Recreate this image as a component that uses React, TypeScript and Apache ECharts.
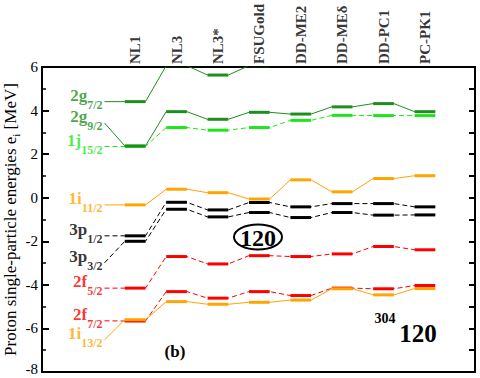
import React, { useEffect, useRef } from 'react';
import * as echarts from 'echarts';

const models = ['NL1', 'NL3', 'NL3*', 'FSUGold', 'DD-ME2', 'DD-MEδ', 'DD-PC1', 'PC-PK1'];
const lvMain = ['2g', '2g', '1j', '1i', '3p', '3p', '2f', '2f', '1i'];
const lvSub = ['7/2', '9/2', '15/2', '11/2', '1/2', '3/2', '5/2', '7/2', '13/2'];
const e2g72 = [4.41, 6.06, 5.63, 6.06, 6.4, 6.4, 6.4, 6.4];
const e2g92 = [2.38, 3.95, 3.6, 3.92, 3.84, 4.17, 4.32, 3.95];
const e1j152 = [2.35, 3.22, 3.1, 3.22, 3.55, 3.78, 3.77, 3.77];
const e1i112 = [-0.33, 0.39, 0.23, -0.06, 0.82, 0.27, 0.88, 1.01];
const e3p12 = [-1.75, -0.21, -0.56, -0.22, -0.42, -0.27, -0.27, -0.42];
const e3p32 = [-2.0, -0.53, -0.88, -0.68, -0.91, -0.68, -0.8, -0.79];
const e2f52 = [-4.15, -2.7, -3.04, -2.66, -2.7, -2.58, -2.24, -2.39];
const e2f72 = [-5.66, -4.31, -4.61, -4.31, -4.49, -4.15, -4.18, -4.03];
const e1i132 = [-5.6, -4.77, -4.89, -4.8, -4.7, -4.18, -4.46, -4.17];
const labelEnergies = [4.41, 3.43, 2.35, -0.33, -1.75, -2.99, -4.15, -5.65, -6.52];
const yTicks = [-8, -6, -4, -2, 0, 2, 4, 6];

const levels = [e2g72, e2g92, e1j152, e1i112, e3p12, e3p32, e2f52, e2f72, e1i132];
const drawOrder = [0, 2, 1, 3, 4, 5, 6, 7, 8];

const DG = '#1e8f1e';
const BG = '#1ee61e';
const OR = '#ffa500';
const RD = '#ff0000';
const BK = '#000000';
const levelColors = [DG, DG, BG, OR, BK, BK, RD, RD, OR];
const levelDashed = [false, false, true, false, true, true, true, true, false];

const SERIF = "'Liberation Serif', 'DejaVu Serif', serif";
const barHalf = 0.25;
const labelX = -0.74;

export default function App() {
  const ref = useRef<HTMLDivElement>(null);
  useEffect(() => {
    if (!ref.current) return;
    const chart = echarts.init(ref.current, null, { renderer: 'svg' });

    const connSeries: any[] = drawOrder.map((li) => {
      const vals = levels[li];
      const data: number[][] = [[labelX, labelEnergies[li]]];
      vals.forEach((v, i) => {
        data.push([i - barHalf, v]);
        data.push([i + barHalf, v]);
      });
      return {
        type: 'line',
        data,
        symbol: 'none',
        clip: true,
        silent: true,
        lineStyle: {
          color: levelColors[li],
          width: 1,
          type: levelDashed[li] ? [5, 3] : 'solid',
        },
        z: 2,
      };
    });

    const barData: number[][] = [];
    drawOrder.forEach((li) => {
      levels[li].forEach((v, i) => barData.push([i, v, li]));
    });

    const richLabel: any = {};
    levelColors.forEach((c, i) => {
      richLabel['m' + i] = {
        fontFamily: SERIF, fontWeight: 'bold', fontSize: 17, color: c,
        lineHeight: 17, verticalAlign: 'top',
      };
      richLabel['s' + i] = {
        fontFamily: SERIF, fontWeight: 'bold', fontSize: 12, color: c,
        lineHeight: 24, verticalAlign: 'bottom',
      };
    });

    const option: any = {
      animation: false,
      grid: { left: 42, right: 5, top: 67, bottom: 6, containLabel: false, outerBoundsMode: 'none' },
      xAxis: [
        {
          type: 'value', min: -2.25, max: 8.21, position: 'bottom',
          axisLine: { show: true, onZero: false, lineStyle: { color: BK, width: 2 } },
          axisTick: { show: false }, axisLabel: { show: false }, splitLine: { show: false },
        },
        {
          type: 'value', min: -2.25, max: 8.21, position: 'top',
          axisLine: { show: true, onZero: false, lineStyle: { color: BK, width: 2 } },
          axisTick: { show: false }, axisLabel: { show: false }, splitLine: { show: false },
        },
      ],
      yAxis: [
        {
          type: 'value', min: yTicks[0], max: yTicks[yTicks.length - 1], interval: 2,
          position: 'left',
          axisLine: { show: true, onZero: false, lineStyle: { color: BK, width: 2 } },
          axisTick: { show: true, inside: true, length: 7, lineStyle: { color: BK, width: 2 } },
          minorTick: { show: true, splitNumber: 2, length: 4, lineStyle: { color: BK, width: 1.5 } },
          axisLabel: {
            color: BK, fontFamily: SERIF, fontSize: 15, margin: 4,
            formatter: (v: number) => (v === yTicks[0] ? `{lo|${v}}` : `${v}`),
            rich: {
              lo: { fontFamily: SERIF, fontSize: 15, color: BK, padding: [0, 0, 6, 0] },
            },
          },
          splitLine: { show: false },
          name: '{a|Proton single-particle energies e}{s|i}{a| [MeV]}',
          nameLocation: 'middle',
          nameGap: 21,
          nameMoveOverlap: false,
          nameTextStyle: {
            rich: {
              a: { fontFamily: SERIF, fontSize: 17, color: BK, lineHeight: 17, verticalAlign: 'top' },
              s: { fontFamily: SERIF, fontSize: 11, color: BK, lineHeight: 19, verticalAlign: 'bottom' },
            },
          },
        },
        {
          type: 'value', min: -8, max: 6, interval: 1, position: 'right',
          axisLine: { show: true, onZero: false, lineStyle: { color: BK, width: 2 } },
          axisTick: { show: true, inside: true, length: 6, lineStyle: { color: BK, width: 2 } },
          axisLabel: { show: false }, splitLine: { show: false },
        },
      ],
      series: [
        ...connSeries,
        {
          type: 'custom',
          data: barData,
          clip: true,
          silent: true,
          z: 3,
          renderItem: (params: any, api: any) => {
            const x = api.value(0);
            const y = api.value(1);
            const li = api.value(2);
            const p1 = api.coord([x - barHalf, y]);
            const p2 = api.coord([x + barHalf, y]);
            return {
              type: 'line',
              shape: { x1: p1[0], y1: p1[1], x2: p2[0], y2: p2[1] },
              style: { stroke: levelColors[li], lineWidth: 3 },
            };
          },
        },
        {
          type: 'scatter',
          symbolSize: 0,
          silent: true,
          clip: false,
          data: labelEnergies.map((e, i) => [labelX, e, i]),
          label: {
            show: true,
            position: 'left',
            distance: 2,
            offset: [0, -3],
            formatter: (p: any) => {
              const i = p.data[2];
              return `{m${i}|${lvMain[i]}}{s${i}|${lvSub[i]}}`;
            },
            rich: richLabel,
          },
        },
        {
          type: 'scatter',
          symbolSize: 0,
          silent: true,
          clip: false,
          data: models.map((m, i) => [i, 6, m]),
          label: {
            show: true,
            position: 'top',
            distance: 3,
            rotate: 90,
            align: 'left',
            verticalAlign: 'middle',
            formatter: (p: any) => p.data[2],
            fontFamily: SERIF,
            fontWeight: 'bold',
            fontSize: 15,
            color: BK,
          },
        },
      ],
      graphic: [
        {
          type: 'ellipse',
          shape: { cx: 258, cy: 237, rx: 24, ry: 12.5 },
          style: { fill: 'none', stroke: BK, lineWidth: 2 },
          z: 10,
        },
        {
          type: 'text',
          x: 258, y: 238,
          style: {
            text: '120', fontFamily: SERIF, fontWeight: 'bold', fontSize: 24,
            fill: BK, align: 'center', verticalAlign: 'middle',
          },
          z: 10,
        },
        {
          type: 'text',
          x: 175, y: 351,
          style: {
            text: '(b)', fontFamily: SERIF, fontWeight: 'bold', fontSize: 17,
            fill: BK, align: 'center', verticalAlign: 'middle',
          },
          z: 10,
        },
        {
          type: 'text',
          x: 385, y: 318,
          style: {
            text: '304', fontFamily: SERIF, fontWeight: 'bold', fontSize: 14,
            fill: BK, align: 'center', verticalAlign: 'middle',
          },
          z: 10,
        },
        {
          type: 'text',
          x: 418, y: 333,
          style: {
            text: '120', fontFamily: SERIF, fontWeight: 'bold', fontSize: 25,
            fill: BK, align: 'center', verticalAlign: 'middle',
          },
          z: 10,
        },
      ],
    };
    chart.setOption(option);
    return () => chart.dispose();
  }, []);
  return <div ref={ref} style={{ width: 480, height: 378, position: 'absolute', left: 0, top: 0 }} />;
}
